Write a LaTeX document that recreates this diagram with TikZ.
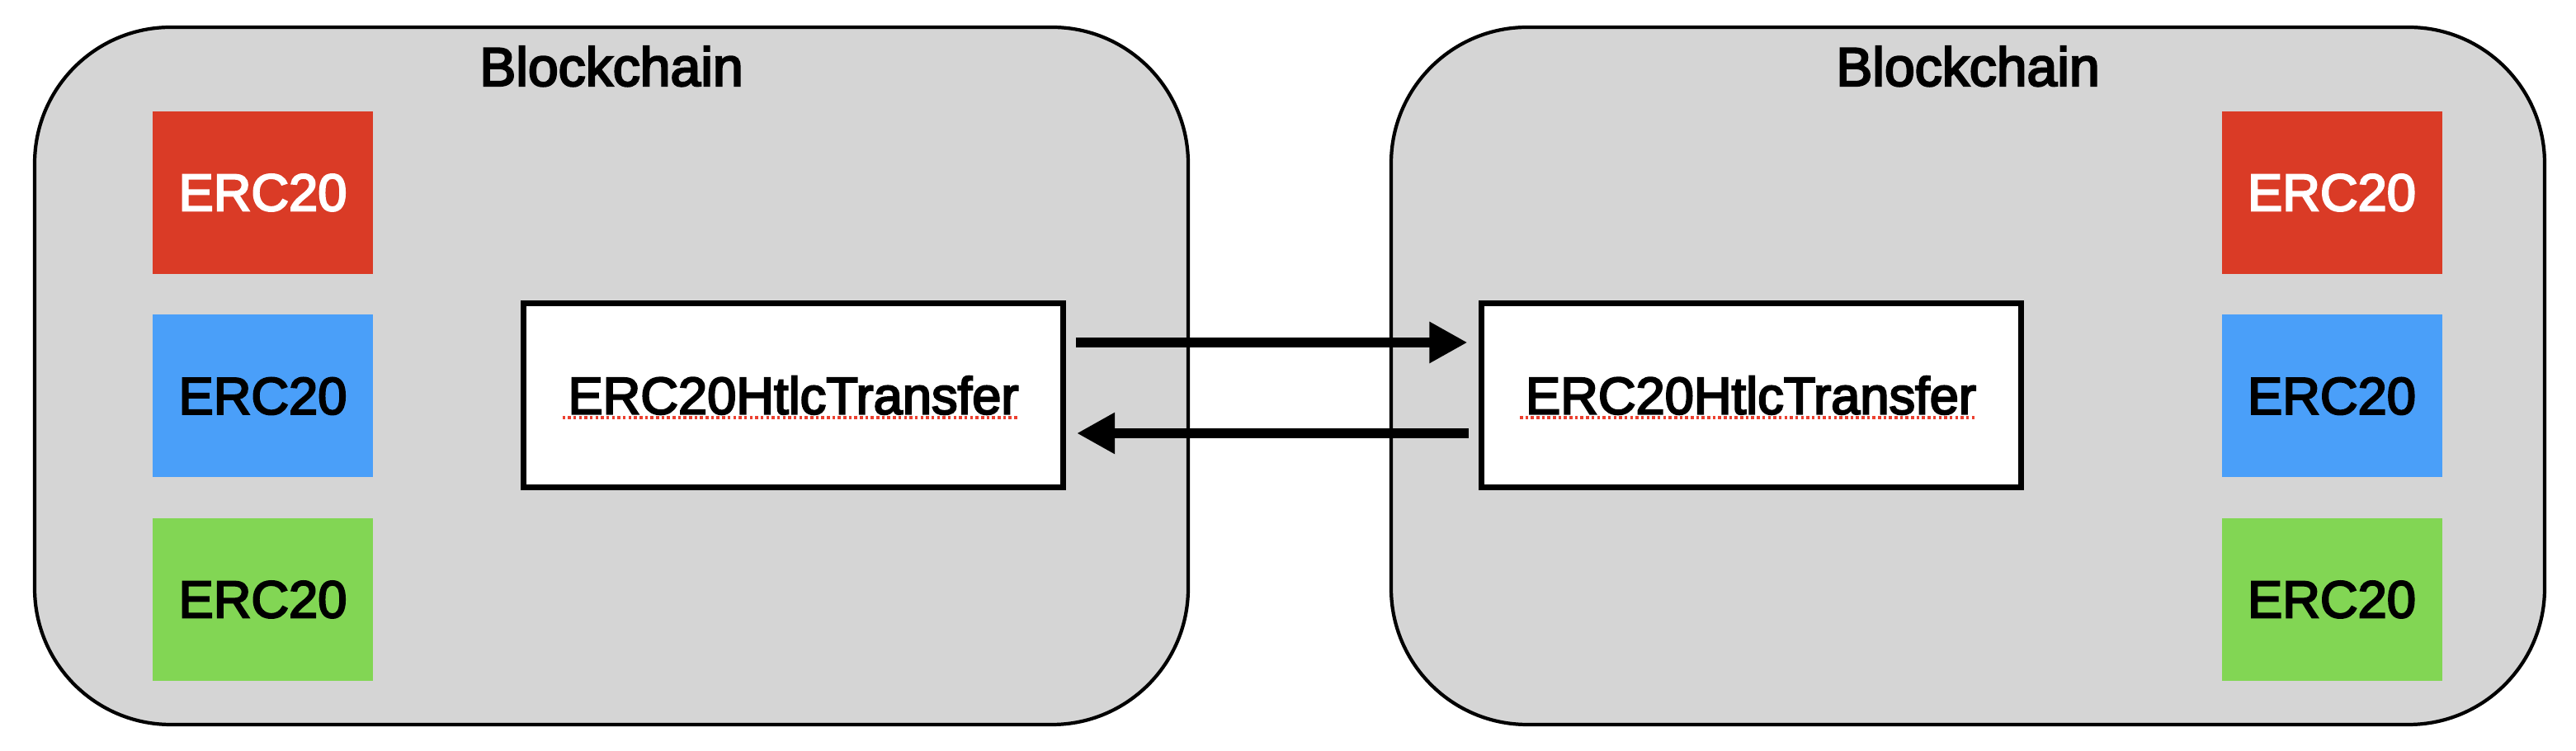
\documentclass[tikz,border=0pt]{standalone}
\usepackage{fontspec}
\setmainfont{Liberation Sans}
\newfontfamily\keyfont{Liberation Sans}[FakeBold=3.5]
\usetikzlibrary{arrows.meta}
\definecolor{chaingray}{RGB}{213,213,213}
\definecolor{tokred}{RGB}{218,59,38}
\definecolor{tokblue}{RGB}{74,159,249}
\definecolor{tokgreen}{RGB}{130,214,84}
\definecolor{spellred}{RGB}{236,64,48}
\begin{document}
\begin{tikzpicture}[
  chain/.style={draw, line width=1.2pt, fill=chaingray, rounded corners=1.65cm,
    minimum width=13.98cm, minimum height=8.45cm, inner sep=0pt},
  token/.style={minimum width=2.67cm, minimum height=1.97cm, inner sep=0pt,
    font=\keyfont\fontsize{18}{22}\selectfont},
  htlc/.style={draw, line width=2pt, fill=white, minimum width=6.54cm,
    minimum height=2.23cm, inner sep=0pt, font=\keyfont\fontsize{18}{22}\selectfont},
  title/.style={anchor=base, inner sep=0pt, font=\keyfont\fontsize{18.8}{22}\selectfont},
  flow/.style={line width=0.12cm, -{Triangle[length=0.46cm,width=0.47cm]},
    shorten <=0.12cm, shorten >=0.13cm},
  squiggle/.style={spellred, line width=1pt, dash pattern=on 1pt off 0.9pt}
]
\useasboundingbox (0,0) rectangle (31.22,9.10);
% left chain
\node[chain] (lchain) at (7.41,4.545) {};
\node[title] (ltitle) at (7.41,8.06) {Blockchain};
\node[token, fill=tokred, text=white] (lred) at (3.185,6.765) {ERC20};
\node[token, fill=tokblue] (lblue) at (3.185,4.30) {ERC20};
\node[token, fill=tokgreen] (lgreen) at (3.185,1.835) {ERC20};
\node[htlc] (lhtlc) at (9.615,4.31) {ERC20HtlcTransfer};
\draw[squiggle] ([shift={(-2.80,-0.27)}]lhtlc.center) -- ([shift={(2.74,-0.27)}]lhtlc.center);
% right chain
\node[chain] (rchain) at (23.85,4.545) {};
\node[title] (rtitle) at (23.85,8.06) {Blockchain};
\node[token, fill=tokred, text=white] (rred) at (28.26,6.765) {ERC20};
\node[token, fill=tokblue] (rblue) at (28.26,4.30) {ERC20};
\node[token, fill=tokgreen] (rgreen) at (28.26,1.835) {ERC20};
\node[htlc] (rhtlc) at (21.22,4.31) {ERC20HtlcTransfer};
\draw[squiggle] ([shift={(-2.80,-0.27)}]rhtlc.center) -- ([shift={(2.74,-0.27)}]rhtlc.center);
% transfers
\draw[flow] ([yshift=0.64cm]lhtlc.east) -- ([yshift=0.64cm]rhtlc.west);
\draw[flow] ([yshift=-0.46cm]rhtlc.west) -- ([yshift=-0.46cm]lhtlc.east);
\end{tikzpicture}
\end{document}
